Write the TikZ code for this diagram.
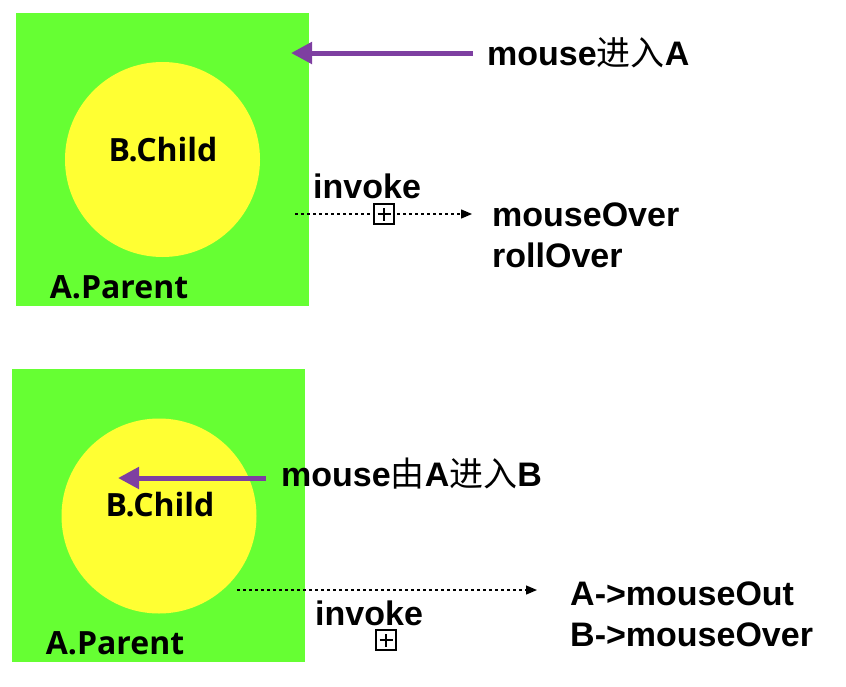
\documentclass[tikz,border=0pt]{standalone}
\usepackage{fontspec}
\setmainfont{Liberation Sans}
\newfontfamily\cjk{Noto Sans CJK SC}
\newfontfamily\labfont{Open Sans}
\usetikzlibrary{arrows.meta}
\definecolor{agreen}{RGB}{102,255,51}
\definecolor{byellow}{RGB}{255,255,51}
\definecolor{apurple}{RGB}{126,63,161}
\tikzset{
  panel/.style={fill=agreen, draw=none, inner sep=0pt, minimum width=293pt, minimum height=293pt},
  child/.style={circle, fill=byellow, draw=none, inner sep=0pt, minimum size=195pt},
  inlabel/.style={font=\labfont\bfseries\fontsize{32}{36}\selectfont, inner sep=0pt},
  txt/.style={font=\bfseries\fontsize{34}{41}\selectfont, inner sep=0pt, align=left},
  move/.style={apurple, line width=5pt, -{Triangle[length=21pt,width=21pt]}},
  call/.style={black, line width=1.3pt, dash pattern=on 3pt off 3pt, -{Triangle[length=11pt,width=9pt]}},
  plusbox/.style={draw, line width=1.6pt, minimum size=20pt, inner sep=0pt,
    path picture={\draw[line width=1.6pt] ([xshift=-6.5pt]path picture bounding box.center) -- ([xshift=6.5pt]path picture bounding box.center)
      ([yshift=-6.5pt]path picture bounding box.center) -- ([yshift=6.5pt]path picture bounding box.center);}},
}
\begin{document}
\begin{tikzpicture}[x=1pt,y=-1pt]
\useasboundingbox (0,0) rectangle (846,686);
% top panel
\node[panel] (pA1) at (162.5,159) {};
\node[child] (cB1) at (162.5,159.5) {};
\node[inlabel] (lB1) at (163,150) {B.Child};
\node[inlabel] (lA1) at (119,287) {A.Parent};
\node[txt, anchor=base west] (t1) at (487,65) {mouse{\cjk\mdseries 进入}A};
\coordinate (s1) at (473,53);
\coordinate (tip1) at (291,53);
\draw[move] (s1) -- (tip1);
\node[txt, anchor=base west] (inv1) at (313,198) {invoke};
\coordinate (c1s) at (295,214);
\node[txt, anchor=base west] (r1) at (492,267) {mouseOver\\rollOver};
\coordinate (c1e) at (472,214);
\draw[call] (c1s) -- (c1e);
\node[plusbox, fill=white] (b1) at (384,214) {};
% bottom panel
\node[panel] (pA2) at (158.5,515.5) {};
\node[child] (cB2) at (159,516) {};
\node[inlabel] (lB2) at (160,505) {B.Child};
\node[inlabel] (lA2) at (115,643) {A.Parent};
\node[txt, anchor=base west] (t2) at (281,486) {mouse{\cjk\mdseries 由}A{\cjk\mdseries 进入}B};
\coordinate (s2) at (266,478);
\coordinate (tip2) at (118,478);
\draw[move] (s2) -- (tip2);
\coordinate (c2s) at (237,590);
\coordinate (c2e) at (537,590);
\draw[call] (c2s) -- (c2e);
\node[txt, anchor=base west] (inv2) at (315,625) {invoke};
\node[plusbox] (b2) at (386,640) {};
\node[txt, anchor=base west] (r2) at (570,646) {A->mouseOut\\B->mouseOver};
\end{tikzpicture}
\end{document}
